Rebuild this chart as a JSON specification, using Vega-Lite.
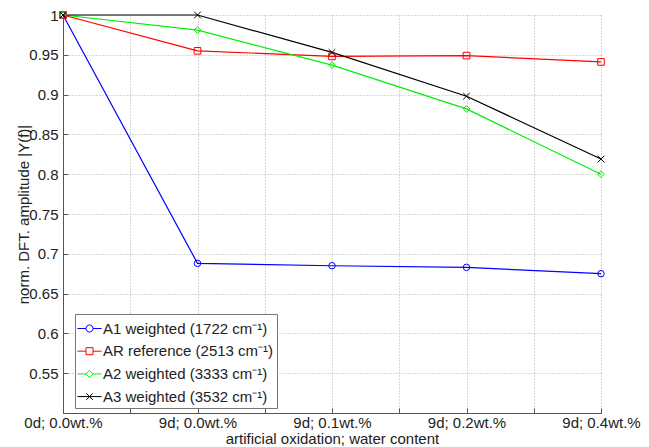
{
  "$schema": "https://vega.github.io/schema/vega-lite/v6.json",
  "autosize": "none",
  "width": 538,
  "height": 398,
  "padding": {"left": 63, "top": 15, "right": 48, "bottom": 34},
  "background": "white",
  "config": {
    "font": "Liberation Sans",
    "view": {"stroke": null},
    "axis": {
      "domainColor": "#555555",
      "tickColor": "#555555",
      "gridColor": "#b0b0b0",
      "gridDash": [1, 2],
      "gridWidth": 1,
      "labelFont": "Liberation Sans",
      "labelFontSize": 15,
      "labelColor": "#222222",
      "titleFont": "Liberation Sans",
      "titleFontSize": 15,
      "titleFontWeight": "normal",
      "titleColor": "#222222"
    }
  },
  "data": {
    "values": [
      {"s": "A1 weighted (1722 cm⁻¹)", "x": 0, "y": 1.0},
      {"s": "A1 weighted (1722 cm⁻¹)", "x": 1, "y": 0.688},
      {"s": "A1 weighted (1722 cm⁻¹)", "x": 2, "y": 0.685},
      {"s": "A1 weighted (1722 cm⁻¹)", "x": 3, "y": 0.683},
      {"s": "A1 weighted (1722 cm⁻¹)", "x": 4, "y": 0.675},
      {"s": "AR reference (2513 cm⁻¹)", "x": 0, "y": 1.0},
      {"s": "AR reference (2513 cm⁻¹)", "x": 1, "y": 0.955},
      {"s": "AR reference (2513 cm⁻¹)", "x": 2, "y": 0.948},
      {"s": "AR reference (2513 cm⁻¹)", "x": 3, "y": 0.949},
      {"s": "AR reference (2513 cm⁻¹)", "x": 4, "y": 0.941},
      {"s": "A2 weighted (3333 cm⁻¹)", "x": 0, "y": 1.0},
      {"s": "A2 weighted (3333 cm⁻¹)", "x": 1, "y": 0.981},
      {"s": "A2 weighted (3333 cm⁻¹)", "x": 2, "y": 0.937},
      {"s": "A2 weighted (3333 cm⁻¹)", "x": 3, "y": 0.882},
      {"s": "A2 weighted (3333 cm⁻¹)", "x": 4, "y": 0.8},
      {"s": "A3 weighted (3532 cm⁻¹)", "x": 0, "y": 1.0},
      {"s": "A3 weighted (3532 cm⁻¹)", "x": 1, "y": 1.0},
      {"s": "A3 weighted (3532 cm⁻¹)", "x": 2, "y": 0.953},
      {"s": "A3 weighted (3532 cm⁻¹)", "x": 3, "y": 0.898},
      {"s": "A3 weighted (3532 cm⁻¹)", "x": 4, "y": 0.819}
    ]
  },
  "encoding": {
    "x": {
      "field": "x", "type": "quantitative",
      "scale": {"domain": [0, 4], "nice": false, "zero": false},
      "axis": {
        "title": "artificial oxidation; water content",
        "values": [0, 0.5, 1, 1.5, 2, 2.5, 3, 3.5, 4],
        "labelExpr": "datum.value % 1 == 0 ? ['0d; 0.0wt.%', '9d; 0.0wt.%', '9d; 0.1wt.%', '9d; 0.2wt.%', '9d; 0.4wt.%'][datum.value] : ''",
        "labelOverlap": false,
        "labelBound": false,
        "labelFlush": false,
        "tickSize": -5,
        "labelPadding": 7,
        "titlePadding": 1
      }
    },
    "y": {
      "field": "y", "type": "quantitative",
      "scale": {"domain": [0.5, 1], "nice": false, "zero": false},
      "axis": {
        "title": "norm. DFT. amplitude |Y(f)|",
        "values": [0.5, 0.55, 0.6, 0.65, 0.7, 0.75, 0.8, 0.85, 0.9, 0.95, 1],
        "format": ".2~f",
        "labelExpr": "datum.value < 0.51 ? '' : datum.label",
        "labelOverlap": false,
        "labelFlush": false,
        "tickSize": -5,
        "labelPadding": 10,
        "titlePadding": -3
      }
    },
    "color": {
      "field": "s", "type": "nominal",
      "scale": {
        "domain": ["A1 weighted (1722 cm⁻¹)", "AR reference (2513 cm⁻¹)", "A2 weighted (3333 cm⁻¹)", "A3 weighted (3532 cm⁻¹)"],
        "range": ["#0000ff", "#ff0000", "#00f000", "#000000"]
      },
      "legend": {
        "title": null,
        "orient": "none",
        "legendX": 12,
        "legendY": 299,
        "padding": 3,
        "strokeColor": "#777777",
        "fillColor": "white",
        "cornerRadius": 0,
        "labelFont": "Liberation Sans",
        "labelFontSize": 15,
        "labelColor": "#222222",
        "labelLimit": 0,
        "labelOffset": 2,
        "symbolSize": 484,
        "symbolStrokeWidth": 1,
        "rowPadding": 2.7,
        "encode": {
          "symbols": {
            "update": {
              "shape": {"signal": "indexof(datum.value, 'A1') == 0 ? 'M-1.1,0L-0.32,0M0.32,0L1.1,0M0.32,0A0.32,0.32 0 1 1 -0.32,0A0.32,0.32 0 1 1 0.32,0' : indexof(datum.value, 'AR') == 0 ? 'M-1.1,0L-0.32,0M0.32,0L1.1,0M-0.32,-0.32L0.32,-0.32L0.32,0.32L-0.32,0.32Z' : indexof(datum.value, 'A2') == 0 ? 'M-1.1,0L-0.32,0M0.32,0L1.1,0M0,-0.32L0.32,0L0,0.32L-0.32,0Z' : 'M-1.1,0L1.1,0M-0.3,-0.3L0.3,0.3M-0.3,0.3L0.3,-0.3'"},
              "fill": {"value": "transparent"}
            }
          }
        }
      }
    }
  },
  "layer": [
    {
      "mark": {"type": "line", "strokeWidth": 1.2, "clip": false}
    },
    {
      "transform": [{"filter": "indexof(datum.s, 'A1') == 0"}],
      "mark": {"type": "point", "shape": "circle", "filled": false, "strokeWidth": 1, "opacity": 1, "size": 42, "clip": false}
    },
    {
      "transform": [{"filter": "indexof(datum.s, 'AR') == 0"}],
      "mark": {"type": "point", "shape": "square", "filled": false, "strokeWidth": 1, "opacity": 1, "size": 44, "clip": false}
    },
    {
      "transform": [{"filter": "indexof(datum.s, 'A2') == 0"}],
      "mark": {"type": "point", "shape": "diamond", "filled": false, "strokeWidth": 1, "opacity": 1, "size": 44, "clip": false}
    },
    {
      "transform": [{"filter": "indexof(datum.s, 'A3') == 0"}],
      "mark": {"type": "point", "shape": "M-1,-1L1,1M-1,1L1,-1", "filled": false, "strokeWidth": 1, "opacity": 1, "size": 44, "clip": false}
    }
  ]
}
